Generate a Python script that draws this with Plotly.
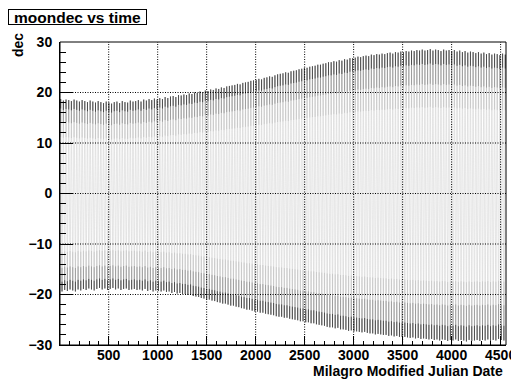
import plotly.graph_objects as go

# Milagro Modified Julian Date offsets: first extreme and spacing between extremes (days)
first_day = 10
half_period = 13.667

# Peak declinations (one per lunar month)
peaks = [
    18.7, 18.4, 18.6, 18.5, 18.3, 18.6, 18.4, 18.2, 18.5,
    18.3, 18.1, 18.4, 18.2, 18.0, 18.3, 18.1, 17.9, 18.2,
    18.0, 17.8, 18.1, 18.2, 17.9, 18.3, 18.1, 18.0, 18.4, 18.2,
    18.3, 18.5, 18.2, 18.6, 18.4, 18.7, 18.5, 18.8, 18.6,
    18.9, 18.7, 19.1, 18.9, 19.2, 19.3, 19.1, 19.5, 19.4,
    19.6, 19.5, 19.8, 19.7, 20.0, 19.9, 20.2, 20.1, 20.4,
    20.3, 20.6, 20.5, 20.8, 20.7, 21.0, 20.9, 21.2, 21.3,
    21.4, 21.5, 21.7, 21.6, 21.9, 22.0, 22.1, 22.3, 22.4,
    22.5, 22.7, 22.6, 22.9, 23.0, 23.2, 23.1, 23.4, 23.6,
    23.7, 23.8, 24.0, 23.9, 24.2, 24.3, 24.4, 24.6, 24.7, 24.9,
    24.9, 25.1, 25.2, 25.3, 25.5, 25.5, 25.7, 25.8, 26.0,
    26.0, 26.2, 26.1, 26.4, 26.3, 26.6, 26.5, 26.8, 26.8,
    26.9, 27.1, 27.0, 27.2, 27.3, 27.2, 27.5, 27.4, 27.6,
    27.5, 27.7, 27.6, 27.8, 27.9, 27.7, 28.0, 27.9, 28.1,
    28.0, 28.2, 28.1, 28.3, 28.2, 28.4, 28.3, 28.5, 28.3,
    28.4, 28.6, 28.3, 28.5, 28.4, 28.2, 28.5, 28.3, 28.4,
    28.2, 28.4, 28.1, 28.3, 28.0, 28.2, 27.9, 28.1, 28.0, 27.8,
    28.0, 27.7, 27.9, 27.6, 27.8, 27.5, 27.7, 27.6, 27.4, 27.7, 27.5,
]

# Trough declinations (one per lunar month)
troughs = [
    -19.4, -19.1, -19.3, -19.0, -19.2, -19.4, -19.0, -19.2, -18.9,
    -19.1, -18.8, -19.0, -19.2, -18.9, -18.7, -19.0, -18.8, -19.1,
    -18.9, -18.7, -19.0, -18.8, -19.1, -18.9, -18.8, -19.1, -19.0, -18.9,
    -19.1, -19.0, -19.2, -18.9, -19.3, -19.1, -19.4, -19.2, -19.3,
    -19.4, -19.2, -19.5, -19.4, -19.7, -19.5, -19.8, -19.7, -19.9,
    -19.9, -20.1, -20.0, -20.3, -20.4, -20.5, -20.7, -20.8, -21.0,
    -21.0, -21.2, -21.3, -21.5, -21.6, -21.8, -21.8, -22.0, -22.2,
    -22.2, -22.4, -22.5, -22.7, -22.8, -23.0, -23.0, -23.2, -23.4,
    -23.4, -23.6, -23.6, -23.8, -23.9, -24.0, -24.1, -24.3, -24.4,
    -24.4, -24.6, -24.6, -24.8, -24.9, -25.0, -25.1, -25.3, -25.3, -25.5,
    -25.5, -25.7, -25.7, -25.9, -26.0, -26.1, -26.2, -26.4, -26.5,
    -26.5, -26.7, -26.6, -26.9, -26.9, -27.0, -27.2, -27.1, -27.3,
    -27.3, -27.4, -27.5, -27.4, -27.6, -27.7, -27.7, -27.9, -27.8,
    -27.9, -28.0, -28.0, -28.2, -28.1, -28.3, -28.2, -28.4, -28.4,
    -28.4, -28.5, -28.6, -28.5, -28.7, -28.6, -28.8, -28.7, -28.8,
    -28.9, -28.8, -29.0, -28.9, -29.1, -28.9, -29.0, -29.2, -29.0,
    -29.1, -28.9, -29.2, -29.0, -29.1, -29.3, -29.0, -29.2, -29.1, -29.0,
    -29.2, -29.0, -29.1, -28.9, -29.2, -29.0, -29.1, -28.8, -29.0, -29.1,
]

x_ticks = [500, 1000, 1500, 2000, 2500, 3000, 3500, 4000, 4500]
y_ticks = [-30, -20, -10, 0, 10, 20, 30]
x_range = [3, 4555]
y_range = [-30, 30]

# interleave peaks and troughs in time order
extremes = []
for i, p in enumerate(peaks):
    extremes.append(p)
    if i < len(troughs):
        extremes.append(troughs[i])

FONT = "Liberation Sans"
BOLD = dict(family=FONT, size=14, color="black", weight="bold")

fig = go.Figure()

# the oscillating declination curve
fig.add_trace(go.Scatter(
    y=extremes, x0=first_day, dx=half_period,
    mode="lines", line=dict(color="#c8c8c8", width=0.45),
    hoverinfo="skip", showlegend=False,
))


def dwell(values, start, up, pct, colour, thick):
    """Darker strokes where the sampled points pile up at the turning points."""
    return go.Scatter(
        y=values, x0=start, dx=2 * half_period, mode="markers",
        marker=dict(size=0.1, color="black", opacity=0),
        error_y=dict(type="percent", symmetric=False,
                     value=pct if up else 0, valueminus=0 if up else pct,
                     width=0, thickness=thick, color=colour),
        hoverinfo="skip", showlegend=False,
    )


fig.add_trace(dwell(peaks, first_day, False, 40, "#b4b4b4", 0.5))
fig.add_trace(dwell(troughs, first_day + half_period, True, 40, "#b4b4b4", 0.5))
fig.add_trace(dwell(peaks, first_day, False, 24, "#7a7a7a", 0.55))
fig.add_trace(dwell(troughs, first_day + half_period, True, 24, "#7a7a7a", 0.55))
fig.add_trace(dwell(peaks, first_day, False, 10, "#202020", 0.65))
fig.add_trace(dwell(troughs, first_day + half_period, True, 10, "#202020", 0.65))

# dotted grid drawn above the data, as ROOT does
DOT = "1px,1.5px"
shapes = []
for xv in x_ticks:
    shapes.append(dict(type="line", xref="x", yref="paper", x0=xv, x1=xv, y0=0, y1=1,
                       line=dict(color="black", width=1, dash=DOT), layer="above"))
for yv in y_ticks[1:-1]:
    shapes.append(dict(type="line", xref="paper", yref="y", x0=0, x1=1, y0=yv, y1=yv,
                       line=dict(color="black", width=1, dash=DOT), layer="above"))
# frame
shapes.append(dict(type="rect", xref="paper", yref="paper", x0=0, x1=1, y0=0, y1=1,
                   line=dict(color="black", width=1), layer="above"))

# the page adds an 8px body margin, so the figure is 8px smaller each way
fig.update_layout(
    width=511, height=371,
    margin=dict(l=52, r=13, t=34, b=34, autoexpand=False),
    paper_bgcolor="white", plot_bgcolor="white",
    shapes=shapes,
    xaxis=dict(
        range=x_range, tickvals=x_ticks, showgrid=False, zeroline=False, automargin=False,
        ticks="inside", ticklen=9, tickwidth=1, tickcolor="black",
        minor=dict(ticks="inside", ticklen=4, dtick=100, tick0=0, tickcolor="black", showgrid=False),
        showline=True, linecolor="black", linewidth=1, layer="above traces",
        tickfont=BOLD, ticklabelstandoff=-3,
    ),
    yaxis=dict(
        range=y_range, tickvals=y_ticks, showgrid=False, zeroline=False, automargin=False,
        ticks="inside", ticklen=13, tickwidth=1, tickcolor="black",
        minor=dict(ticks="inside", ticklen=6, dtick=2, tick0=0, tickcolor="black", showgrid=False),
        showline=True, linecolor="black", linewidth=1, layer="above traces",
        tickfont=BOLD, ticklabelstandoff=4,
    ),
    annotations=[
        dict(text="moondec vs time", xref="paper", yref="paper", x=0, y=1,
             xanchor="left", yanchor="bottom", showarrow=False, xshift=-52, yshift=17,
             width=137, height=14, align="center",
             font=dict(family=FONT, size=15.5, color="black", weight="bold"),
             bordercolor="black", borderwidth=1, bgcolor="white", borderpad=0),
        dict(text="dec", xref="paper", yref="paper", x=0, y=1, xanchor="right", yanchor="top",
             textangle=-90, showarrow=False, xshift=-32, yshift=11, font=BOLD),
        dict(text="Milagro Modified Julian Date", xref="paper", yref="paper",
             x=1, y=0, xanchor="right", yanchor="top", xshift=-1, yshift=-16,
             showarrow=False, font=BOLD),
    ],
)

fig.write_html("out.html")
